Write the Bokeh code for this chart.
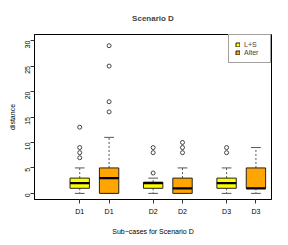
import math
from bokeh.plotting import figure
from bokeh.models import ColumnDataSource, Range1d, FixedTicker, Legend, LegendItem
from bokeh.embed import file_html
from bokeh.resources import INLINE

# ---- data ----
tick_labels = ["D1", "D1", "D2", "D2", "D3", "D3"]
positions = [1, 2, 3.5, 4.5, 6, 7]
series = ["L+S", "Alter", "L+S", "Alter", "L+S", "Alter"]
q1 = [1, 0, 1, 0, 1, 1]
med = [2, 3, 2, 1, 2, 1]
q3 = [3, 5, 2.2, 3, 3, 5]
whisk_lo = [0, 0, 0, 0, 0, 0]
whisk_hi = [5, 11, 3, 5, 5, 9]
outliers = [[7, 8, 9, 13], [16, 18, 25, 29], [4, 8, 9], [8, 9, 10], [8, 9], []]
y_ticks = [0, 5, 10, 15, 20, 25, 30]
series_names = ["L+S", "Alter"]
series_colors = ["#FFFF00", "#FFA500"]

FONT = "Liberation Sans"
half = 0.33
cap = 0.165

p = figure(width=280, height=237, x_range=Range1d(-0.54, 7.53), y_range=Range1d(-1.2, 31.2),
           output_backend="svg", toolbar_location=None, title="Scenario D",
           min_border_left=34, min_border_right=9, min_border_top=34, min_border_bottom=35)
p.grid.visible = False
p.outline_line_color = "black"
p.outline_line_width = 1

p.title.align = "center"
p.title.text_font = FONT
p.title.text_font_size = "8px"
p.title.text_font_style = "bold"
p.title.padding = dict(left=0, right=0, top=0, bottom=7)

# whiskers
ws = ColumnDataSource(dict(x=positions + positions, y0=q3 + q1, y1=whisk_hi + whisk_lo))
p.segment(x0="x", y0="y0", x1="x", y1="y1", source=ws, line_color="#555555",
          line_width=1, line_dash="2 2")
# caps
cs = ColumnDataSource(dict(x0=[x - cap for x in positions] * 2, x1=[x + cap for x in positions] * 2,
                           y=whisk_hi + whisk_lo))
p.segment(x0="x0", y0="y", x1="x1", y1="y", source=cs, line_color="#555555", line_width=1)

items = []
for name, col in zip(series_names, series_colors):
    idx = [i for i, s in enumerate(series) if s == name]
    src = ColumnDataSource(dict(left=[positions[i] - half for i in idx],
                                right=[positions[i] + half for i in idx],
                                top=[q3[i] for i in idx], bottom=[q1[i] for i in idx]))
    r = p.quad(left="left", right="right", top="top", bottom="bottom", source=src,
               fill_color=col, line_color="#222222", line_width=1)
    items.append(LegendItem(label=name, renderers=[r]))

# medians
ms = ColumnDataSource(dict(x0=[x - half for x in positions], x1=[x + half for x in positions], y=med))
p.segment(x0="x0", y0="y", x1="x1", y1="y", source=ms, line_color="black", line_width=2.2)

# outliers
ox, oy = [], []
for x, vals in zip(positions, outliers):
    for v in vals:
        ox.append(x)
        oy.append(v)
p.scatter(ox, oy, marker="circle", size=4, fill_color=None, line_color="#444444", line_width=1)

legend = Legend(items=items, location="top_right", margin=0, padding=6, spacing=1,
                label_text_font=FONT, label_text_font_size="7px", label_height=5,
                glyph_height=5, glyph_width=5, label_standoff=4,
                border_line_color="#444444", border_line_width=1,
                background_fill_color="white", background_fill_alpha=1)
p.add_layout(legend, "center")

# axes
p.yaxis.ticker = FixedTicker(ticks=y_ticks)
p.yaxis.major_label_orientation = math.pi / 2
p.yaxis.axis_label = "distance"
p.xaxis.ticker = FixedTicker(ticks=positions)
p.xaxis.major_label_overrides = {pos: lab for pos, lab in zip(positions, tick_labels)}
p.xaxis.axis_label = "Sub\u2212cases for Scenario D"
for ax in (p.xaxis, p.yaxis):
    ax.major_tick_out = 4
    ax.major_tick_in = 0
    ax.minor_tick_out = 0
    ax.minor_tick_in = 0
    ax.axis_line_color = "black"
    ax.major_tick_line_color = "#333333"
    ax.major_label_text_font = FONT
    ax.major_label_text_font_size = "7px"
    ax.major_label_text_color = "black"
    ax.axis_label_text_font = FONT
    ax.axis_label_text_font_size = "7px"
    ax.axis_label_text_font_style = "normal"
    ax.axis_label_text_color = "black"
p.yaxis.major_label_standoff = 3
p.yaxis.axis_label_standoff = 4
p.xaxis.major_label_standoff = 4
p.xaxis.axis_label_standoff = 10

open("out.html", "w").write(file_html(p, INLINE))
